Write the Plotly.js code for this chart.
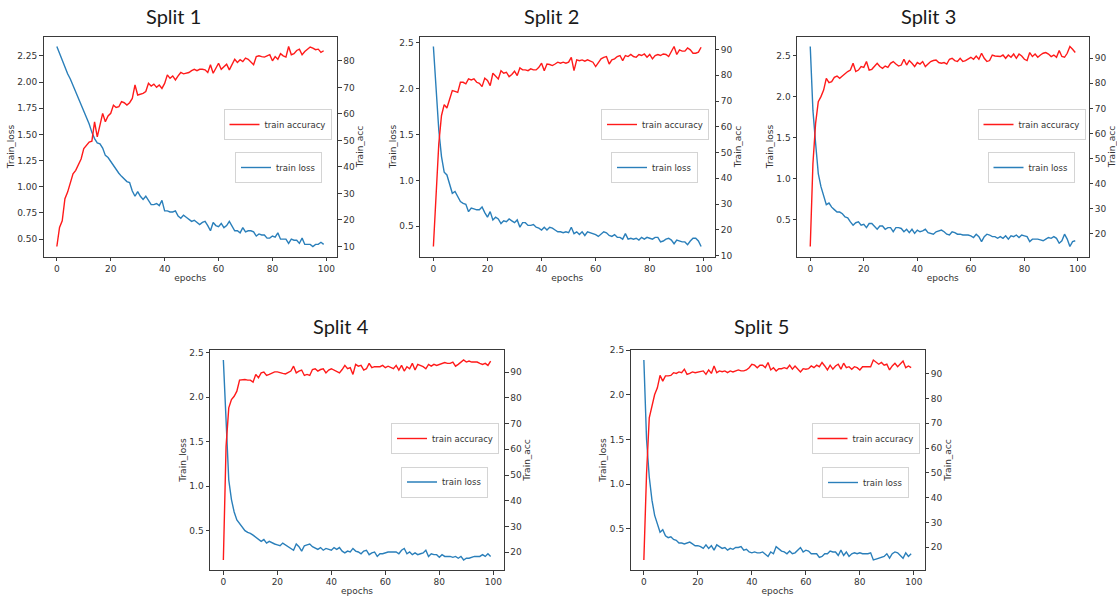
<!DOCTYPE html>
<html>
<head>
<meta charset="utf-8">
<script src="https://cdn.plot.ly/plotly-3.0.1.min.js"></script>
<style>html,body{margin:0;padding:0;background:#fff;}#chart{width:1117px;height:598px;}</style>
</head>
<body>
<div id="chart"></div>
<script>
const epochs = [0,1,2,3,4,5,6,7,8,9,10,11,12,13,14,15,16,17,18,19,20,21,22,23,24,25,26,27,28,29,30,31,32,33,34,35,36,37,38,39,40,41,42,43,44,45,46,47,48,49,50,51,52,53,54,55,56,57,58,59,60,61,62,63,64,65,66,67,68,69,70,71,72,73,74,75,76,77,78,79,80,81,82,83,84,85,86,87,88,89,90,91,92,93,94,95,96,97,98,99];

const splitTitles = ['Split 1', 'Split 2', 'Split 3', 'Split 4', 'Split 5'];
const lossName = 'train loss';
const accName = 'train accuracy';

const split1Loss = [2.34,2.27,2.22,2.14,2.08,2.03,1.97,1.91,1.85,1.78,
1.72,1.66,1.60,1.52,1.46,1.42,1.41,1.37,1.30,1.28,
1.24,1.20,1.16,1.13,1.10,1.07,1.05,1.04,0.96,0.91,
0.955,0.91,0.88,0.91,0.87,0.83,0.83,0.84,0.82,0.87,
0.77,0.77,0.76,0.76,0.77,0.72,0.70,0.73,0.71,0.69,
0.67,0.68,0.66,0.64,0.66,0.67,0.63,0.58,0.66,0.63,
0.62,0.65,0.61,0.63,0.67,0.63,0.58,0.58,0.56,0.61,
0.57,0.58,0.58,0.57,0.53,0.55,0.54,0.54,0.51,0.51,
0.53,0.52,0.56,0.50,0.50,0.50,0.46,0.50,0.49,0.49,
0.46,0.51,0.45,0.45,0.45,0.43,0.45,0.45,0.47,0.45];
const split1Acc = [10,17.2,19.7,28,30.5,33.6,37.4,38.7,40.6,43,
46.9,48.2,49.4,49.7,57,51.3,55.7,60.2,57,59.2,
60.2,63.3,62.4,62.7,64.6,64.2,63.3,64.2,65.8,70.9,
67.1,67.4,67.7,68.4,71.5,70.5,71.2,70,70.9,69.6,
71.5,74.7,73.4,74.3,72.8,74.3,75.6,75.1,75.3,75.6,
76.3,76.8,76.3,76.8,76.8,76.6,75.6,78.5,75.3,77.2,
79.1,76.8,77.6,78.7,76.6,78.5,80.6,79.4,80.4,79.7,
81,80.6,79.7,78.5,81.6,81.9,81.6,81.4,81.9,82.3,
80,81.6,80.6,82.7,81.9,81.4,85.4,82.3,82.7,83.9,
84.4,82.3,83.5,84.4,85.2,84.8,84.2,84.4,83.2,83.8];

const split2Loss = [2.46,1.95,1.55,1.26,1.09,1.06,0.97,0.86,0.88,0.82,
0.77,0.75,0.74,0.66,0.70,0.69,0.68,0.68,0.71,0.65,
0.60,0.66,0.57,0.60,0.58,0.53,0.56,0.55,0.58,0.56,
0.54,0.57,0.49,0.54,0.54,0.51,0.51,0.52,0.49,0.48,
0.46,0.49,0.46,0.49,0.48,0.46,0.44,0.44,0.43,0.44,
0.43,0.49,0.42,0.44,0.41,0.44,0.40,0.44,0.43,0.42,
0.41,0.39,0.41,0.44,0.43,0.40,0.39,0.41,0.38,0.38,
0.36,0.42,0.36,0.37,0.36,0.37,0.35,0.38,0.36,0.38,
0.37,0.36,0.38,0.38,0.33,0.34,0.36,0.37,0.35,0.31,
0.35,0.34,0.33,0.33,0.30,0.34,0.37,0.37,0.34,0.28];
const split2Acc = [13.5,35.2,53.4,64.4,68.6,67.3,70.8,74.1,73.8,73.4,
77.3,77.3,76.7,78.6,78.2,78.6,77.3,76.9,75.6,78.9,
78.0,76.0,80.8,79.5,78.6,81.8,80.8,81.2,79.5,80.3,
81.6,79.9,82.9,82.1,82.1,81.8,82.5,82.1,82.1,83.1,
84.7,81.8,84.4,84.2,83.8,84.4,85.1,84.7,85.1,84.7,
85.1,87.0,81.8,86.0,85.7,86.0,85.5,86.0,85.5,85.1,
83.4,85.1,86.4,87.0,87.3,84.4,86.0,86.4,87.3,87.7,
85.7,87.7,87.3,88.1,87.3,87.0,88.1,87.7,88.3,87.0,
88.1,86.4,87.7,88.1,87.7,88.3,88.1,87.3,89.4,91.2,
88.1,89.9,89.4,89.4,90.6,89.9,88.6,88.6,89.0,90.9];

const split3Loss = [2.61,1.83,1.43,1.06,0.90,0.80,0.68,0.70,0.65,0.62,
0.59,0.59,0.57,0.53,0.52,0.47,0.43,0.46,0.47,0.43,
0.44,0.40,0.45,0.45,0.41,0.38,0.42,0.42,0.38,0.40,
0.40,0.35,0.40,0.40,0.39,0.35,0.38,0.34,0.38,0.33,
0.37,0.35,0.36,0.38,0.34,0.33,0.32,0.35,0.36,0.37,
0.35,0.32,0.31,0.35,0.34,0.32,0.32,0.31,0.31,0.31,
0.30,0.28,0.32,0.29,0.23,0.29,0.32,0.31,0.29,0.29,
0.27,0.29,0.27,0.30,0.26,0.30,0.29,0.31,0.28,0.31,
0.30,0.29,0.23,0.26,0.26,0.26,0.25,0.24,0.26,0.28,
0.27,0.29,0.27,0.21,0.24,0.32,0.26,0.17,0.23,0.24];
const split3Acc = [14.9,48,64,72.7,74.7,77.3,82,80.3,80.7,82.4,
82.9,82,82.9,84,84.7,85.3,88,84.7,85.3,86.7,
86.4,88.7,85.3,85.6,86.9,88,86.7,86,86.9,86.4,
88,88.7,87.7,86.9,87.3,89.6,87.3,89.1,88,86.7,
88.3,87.7,88.7,86.7,87.7,88.7,89.1,89.3,88.3,88,
88.3,87.7,89.6,90,89.1,88.7,90,88.7,89.1,89.6,
90.4,89.6,90.9,89.6,92,90,88.7,89.1,91.3,90.9,
90.9,90.7,91.3,90,91.3,90.4,91.7,90,91.7,90.9,
89.6,89.1,92.3,90.7,91.7,90.4,91.3,92,92.3,91.7,
90.7,91.3,90.4,93.1,90.7,90.4,92,94.7,93.6,92.3];

const split4Loss = [2.42,1.71,1.07,0.85,0.71,0.62,0.58,0.53,0.50,0.48,
0.47,0.45,0.43,0.40,0.38,0.40,0.36,0.38,0.36,0.35,
0.34,0.33,0.36,0.34,0.32,0.30,0.28,0.35,0.32,0.27,
0.33,0.34,0.35,0.32,0.30,0.29,0.31,0.28,0.30,0.29,
0.28,0.31,0.29,0.31,0.27,0.25,0.27,0.26,0.30,0.27,
0.26,0.24,0.27,0.28,0.23,0.25,0.26,0.21,0.24,0.24,
0.25,0.26,0.26,0.26,0.26,0.24,0.28,0.30,0.24,0.26,
0.23,0.25,0.23,0.24,0.25,0.28,0.21,0.24,0.23,0.23,
0.20,0.23,0.21,0.21,0.21,0.20,0.21,0.19,0.21,0.17,
0.19,0.19,0.20,0.21,0.21,0.21,0.23,0.21,0.24,0.21];
const split4Acc = [17.0,61.1,76.1,79.3,80.6,82.6,86.9,87.1,87.1,86.9,
86.9,86.1,89.1,87.8,89.7,90.0,88.7,89.1,89.7,90.1,
90.1,89.7,89.5,89.3,90.0,90.4,92.3,89.7,90.4,90.8,
88.7,89.1,88.7,91.0,91.3,90.4,91.0,91.3,89.7,90.8,
91.3,90.8,90.4,89.7,91.0,92.6,91.3,91.7,89.1,93.0,
92.3,92.6,90.8,91.3,93.4,91.7,92.1,92.1,92.1,92.6,
91.7,92.3,91.7,91.3,92.6,90.8,92.6,90.4,92.1,91.3,
93.4,90.8,93.0,92.6,92.1,91.3,93.0,92.3,93.0,92.6,
93.0,93.4,93.7,93.4,93.4,93.9,92.3,93.0,93.7,94.7,
93.9,94.3,93.9,93.9,93.9,93.4,93.0,93.4,92.6,94.3];

const split5Loss = [2.39,1.50,1.08,0.82,0.65,0.54,0.46,0.49,0.42,0.40,
0.41,0.38,0.37,0.34,0.34,0.33,0.34,0.35,0.33,0.31,
0.31,0.30,0.28,0.32,0.28,0.31,0.26,0.32,0.30,0.28,
0.29,0.26,0.28,0.27,0.29,0.29,0.30,0.26,0.27,0.24,
0.23,0.24,0.23,0.23,0.24,0.22,0.19,0.24,0.22,0.30,
0.27,0.25,0.24,0.22,0.25,0.22,0.23,0.26,0.29,0.24,
0.26,0.25,0.22,0.22,0.22,0.18,0.19,0.22,0.22,0.25,
0.24,0.24,0.20,0.26,0.20,0.24,0.19,0.22,0.23,0.22,
0.23,0.22,0.22,0.22,0.23,0.15,0.16,0.17,0.18,0.19,
0.22,0.17,0.22,0.24,0.23,0.20,0.17,0.23,0.19,0.22];
const split5Acc = [14.9,49.9,72.2,77.6,81.6,84.3,89.3,87.0,89.1,89.1,
89.3,90.4,90.1,90.7,90.4,91.8,89.7,90.1,90.7,90.4,
90.7,90.8,91.1,89.7,91.5,90.1,93.1,90.4,91.1,90.8,
91.1,90.4,91.1,90.7,91.1,91.5,91.1,91.1,91.5,92.4,
93.8,93.4,92.4,93.4,93.4,92.4,94.5,91.5,92.4,91.1,
92.0,92.0,92.4,92.0,93.4,91.8,93.1,92.0,90.7,92.0,
91.8,92.0,93.1,92.4,93.4,92.8,94.5,93.1,91.5,93.4,
91.8,93.1,93.8,91.8,94.2,92.4,92.8,91.8,92.8,92.4,
91.5,92.8,92.8,92.8,92.8,95.5,94.7,93.8,94.5,93.4,
93.8,91.5,93.1,94.2,92.8,93.8,95.1,92.4,93.1,92.4];

const lossSeries = [split1Loss, split2Loss, split3Loss, split4Loss, split5Loss];
const accSeries = [split1Acc, split2Acc, split3Acc, split4Acc, split5Acc];

// ---------- layout configuration (pixels in the 1117x598 page) ----------
const W = 1117, H = 598;
const panels = [
  {box:[43.5,337,36.5,256.5], title:[173,16], accLeg:[277.5,124.5], lossLeg:[278.5,167.5], lossDtick:0.25, lossFmt:'.2f'},
  {box:[420,714.5,36.5,256.5], title:[551.5,16], accLeg:[655,124.5], lossLeg:[654.5,167.5], lossDtick:0.5, lossFmt:'.1f'},
  {box:[797,1088.5,36.5,256.5], title:[928,16], accLeg:[1031.5,124.5], lossLeg:[1031,167.5], lossDtick:0.5, lossFmt:'.1f'},
  {box:[210,504,350,570], title:[341,326], accLeg:[445,438.5], lossLeg:[444.5,482], lossDtick:0.5, lossFmt:'.1f'},
  {box:[630.5,924.5,350,570], title:[761,326], accLeg:[865.5,438.5], lossLeg:[865.5,482.5], lossDtick:0.5, lossFmt:'.1f'}
];

const tickFont = {family:'DejaVu Sans', size:9, color:'#333'};
const lineColor = '#3a3a3a';
function padRange(arr) {
  const mn = Math.min(...arr), mx = Math.max(...arr), s = mx - mn;
  return [mn - 0.05*s, mx + 0.05*s];
}
const xRange = padRange(epochs);

const data = [];
const layout = {
  width: W, height: H,
  margin: {l:0, r:0, t:0, b:0},
  paper_bgcolor: '#fff', plot_bgcolor: '#fff',
  annotations: [],
  showlegend: true
};

panels.forEach((p, i) => {
  const n = i + 1;
  const xName = n === 1 ? 'xaxis' : 'xaxis' + n;
  const yl = 2*n - 1, yr = 2*n;
  const ylName = yl === 1 ? 'yaxis' : 'yaxis' + yl;
  const yrName = 'yaxis' + yr;
  const xRef = n === 1 ? 'x' : 'x' + n;
  const ylRef = yl === 1 ? 'y' : 'y' + yl;
  const yrRef = 'y' + yr;
  const legA = 'legend' + (2*n - 1 === 1 ? '' : (2*n - 1));
  const legL = 'legend' + (2*n);

  const xd = [p.box[0]/W, p.box[1]/W];
  const yd = [1 - p.box[3]/H, 1 - p.box[2]/H];

  layout[xName] = {
    domain: xd, anchor: ylRef, range: xRange, tick0: 0, dtick: 20,
    ticks: 'outside', ticklen: 3.5, tickwidth: 1, tickcolor: lineColor,
    showline: true, mirror: true, linecolor: lineColor, linewidth: 1,
    showgrid: false, zeroline: false, tickfont: tickFont, automargin: false,
    title: {text: 'epochs', font: tickFont, standoff: 1}
  };
  layout[ylName] = {
    domain: yd, anchor: xRef, range: padRange(lossSeries[i]),
    tick0: 0, dtick: p.lossDtick, tickformat: p.lossFmt,
    ticks: 'outside', ticklen: 3.5, tickwidth: 1, tickcolor: lineColor,
    showline: true, mirror: true, linecolor: lineColor, linewidth: 1,
    showgrid: false, zeroline: false, tickfont: tickFont, automargin: false,
    title: {text: 'Train_loss', font: tickFont, standoff: 1}
  };
  layout[yrName] = {
    overlaying: ylRef, anchor: xRef, side: 'right', range: padRange(accSeries[i]),
    tick0: 0, dtick: 10,
    ticks: 'outside', ticklen: 3.5, tickwidth: 1, tickcolor: lineColor,
    showline: true, linecolor: lineColor, linewidth: 1,
    showgrid: false, zeroline: false, tickfont: tickFont, automargin: false,
    title: {text: 'Train_acc', font: tickFont, standoff: 2}
  };

  const legStyle = {
    xref: 'paper', yref: 'paper', xanchor: 'center', yanchor: 'middle',
    bgcolor: '#fff', bordercolor: '#d4d4d4', borderwidth: 1,
    font: {family:'DejaVu Sans', size:8.5, color:'#333'},
    itemwidth: 30, tracegroupgap: 0
  };
  layout[legA] = Object.assign({}, legStyle, {x: p.accLeg[0]/W, y: 1 - p.accLeg[1]/H});
  layout[legL] = Object.assign({}, legStyle, {x: p.lossLeg[0]/W, y: 1 - p.lossLeg[1]/H});

  data.push({
    type: 'scatter', mode: 'lines', x: epochs, y: lossSeries[i],
    xaxis: xRef, yaxis: ylRef, name: lossName, legend: legL,
    line: {color: '#2a7fba', width: 1.4}, hoverinfo: 'skip'
  });
  data.push({
    type: 'scatter', mode: 'lines', x: epochs, y: accSeries[i],
    xaxis: xRef, yaxis: yrRef, name: accName, legend: legA,
    line: {color: '#ff1a1a', width: 1.4}, hoverinfo: 'skip'
  });

  layout.annotations.push({
    text: splitTitles[i], xref: 'paper', yref: 'paper',
    x: p.title[0]/W, y: 1 - p.title[1]/H, xanchor: 'center', yanchor: 'middle',
    showarrow: false, font: {family: 'Lato', size: 20, color: '#1a1a1a'}
  });
});

Plotly.newPlot('chart', data, layout, {staticPlot: true, displayModeBar: false});
</script>
</body>
</html>
